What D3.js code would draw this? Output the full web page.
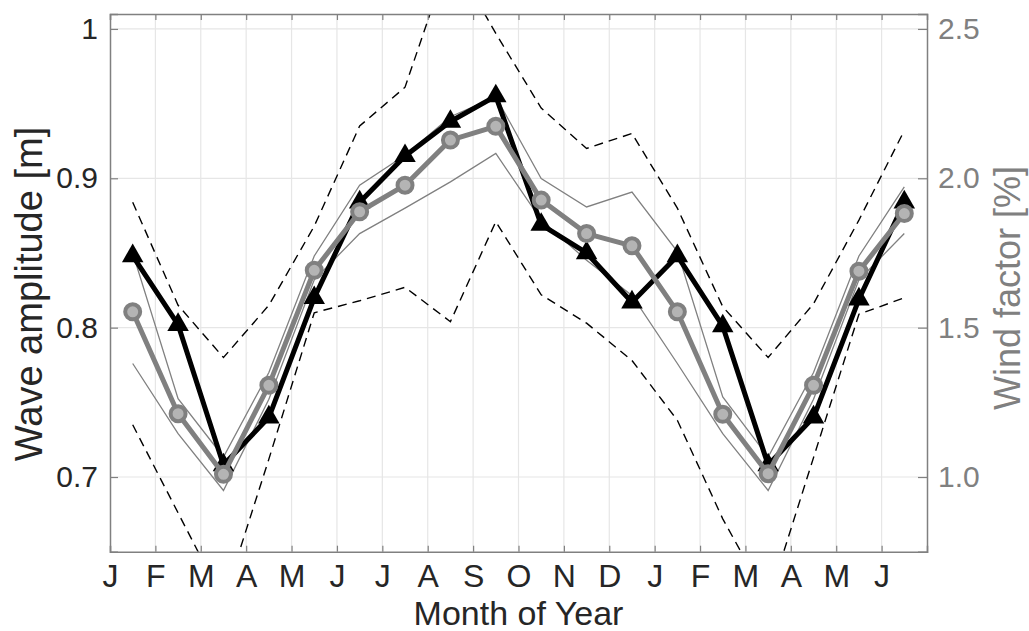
<!DOCTYPE html>
<html>
<head>
<meta charset="utf-8">
<script src="https://cdn.jsdelivr.net/npm/d3@7"></script>
<style>
  body { margin: 0; background: #fff; }
  text { font-family: "Liberation Sans", Arial, Helvetica, sans-serif; }
</style>
</head>
<body>
<svg id="chart" width="1029" height="631"></svg>
<script>

// Month labels on the x axis (18 months, Jan -> Jun of next year)
var months = ['J', 'F', 'M', 'A', 'M', 'J', 'J', 'A', 'S', 'O', 'N', 'D', 'J', 'F', 'M', 'A', 'M', 'J'];

// Wave amplitude [m] (left axis), black line with triangles
var waveAmp = [0.848, 0.802, 0.708, 0.740, 0.820, 0.884, 0.915, 0.938, 0.955, 0.869, 0.850, 0.817, 0.848, 0.801, 0.708, 0.740, 0.819, 0.884];
// dashed envelope around the wave amplitude
var waveUpper = [0.884, 0.815, 0.780, 0.815, 0.868, 0.935, 0.961, 1.050, 0.997, 0.947, 0.920, 0.930, 0.880, 0.814, 0.780, 0.816, 0.872, 0.932];
var waveLower = [0.735, 0.676, 0.617, 0.712, 0.810, 0.818, 0.827, 0.804, 0.871, 0.822, 0.803, 0.778, 0.738, 0.672, 0.617, 0.713, 0.809, 0.820];

// Wind factor [%] (right axis), grey line with circles
var windFactor = [1.553, 1.212, 1.009, 1.307, 1.692, 1.888, 1.977, 2.128, 2.174, 1.927, 1.815, 1.774, 1.553, 1.210, 1.011, 1.307, 1.689, 1.882];
// thin grey envelope around the wind factor
var windUpper = [1.750, 1.262, 1.067, 1.350, 1.740, 1.977, 2.077, 2.206, 2.273, 1.999, 1.904, 1.954, 1.755, 1.268, 1.067, 1.350, 1.740, 1.971];
var windLower = [1.380, 1.145, 0.955, 1.260, 1.660, 1.815, 1.900, 1.988, 2.083, 1.860, 1.726, 1.608, 1.380, 1.145, 0.955, 1.260, 1.660, 1.815];

var leftTicks = [0.7, 0.8, 0.9, 1.0];
var leftTickLabels = ['0.7', '0.8', '0.9', '1'];
var rightTicks = [1.0, 1.5, 2.0, 2.5];
var rightTickLabels = ['1.0', '1.5', '2.0', '2.5'];

var textColor = '#262626';
var greyColor = '#808080';
var gridColor = '#e6e6e6';

// 1. Plot area
var plotLeft = 110, plotRight = 927, plotTop = 14, plotBottom = 551.7;

var svg = d3.select('#chart');

var x = d3.scaleLinear().domain([0, months.length]).range([plotLeft, plotRight]);
var yL = d3.scaleLinear().domain([0.65, 1.01]).range([plotBottom, plotTop]);
var yR = d3.scaleLinear().domain([0.75, 2.55]).range([plotBottom, plotTop]);

svg.append('defs').append('clipPath').attr('id', 'plotClip')
	.append('rect')
	.attr('x', plotLeft).attr('y', plotTop)
	.attr('width', plotRight - plotLeft).attr('height', plotBottom - plotTop);

// 2. Grid
var grid = svg.append('g');
grid.selectAll('.vgrid').data(d3.range(1, months.length)).enter().append('line')
	.attr('x1', function(d) { return x(d); })
	.attr('x2', function(d) { return x(d); })
	.attr('y1', plotTop).attr('y2', plotBottom)
	.style('stroke', gridColor).style('stroke-width', 1.2);
grid.selectAll('.hgrid').data(leftTicks).enter().append('line')
	.attr('x1', plotLeft).attr('x2', plotRight)
	.attr('y1', function(d) { return yL(d); })
	.attr('y2', function(d) { return yL(d); })
	.style('stroke', gridColor).style('stroke-width', 1.2);

// 3. Series
var g = svg.append('g').attr('clip-path', 'url(#plotClip)');
var mid = function(i) { return x(i + 0.5); };

var waveLine = d3.line().x(function(d, i) { return mid(i); }).y(function(d) { return yL(d); });
var windLine = d3.line().x(function(d, i) { return mid(i); }).y(function(d) { return yR(d); });

[waveUpper, waveLower].forEach(function(s) {
	g.append('path').datum(s)
		.style('fill', 'none')
		.style('stroke', '#000')
		.style('stroke-width', 1.4)
		.style('stroke-dasharray', '9,6')
		.attr('d', waveLine);
});

[windUpper, windLower].forEach(function(s) {
	g.append('path').datum(s)
		.style('fill', 'none')
		.style('stroke', greyColor)
		.style('stroke-width', 1.3)
		.attr('d', windLine);
});

// Wave amplitude curve + triangles
g.append('path').datum(waveAmp)
	.style('fill', 'none')
	.style('stroke', '#000')
	.style('stroke-width', 5)
	.style('stroke-linejoin', 'round')
	.attr('d', waveLine);

g.selectAll('.tri').data(waveAmp).enter().append('path')
	.attr('transform', function(d, i) { return 'translate(' + mid(i) + ',' + yL(d) + ')'; })
	.attr('d', d3.symbol().type(d3.symbolTriangle).size(200))
	.style('fill', '#000');

// Wind factor curve + circles
g.append('path').datum(windFactor)
	.style('fill', 'none')
	.style('stroke', greyColor)
	.style('stroke-width', 5)
	.style('stroke-linejoin', 'round')
	.attr('d', windLine);

g.selectAll('.circ').data(windFactor).enter().append('circle')
	.attr('cx', function(d, i) { return mid(i); })
	.attr('cy', function(d) { return yR(d); })
	.attr('r', 7.5)
	.style('fill', '#b4b4b4')
	.style('stroke', greyColor)
	.style('stroke-width', 4);

// 4. Axes box and ticks
var axes = svg.append('g');

var bottomAxis = d3.axisBottom(x).tickValues(d3.range(0, months.length))
	.tickSize(-6).tickPadding(12)
	.tickFormat(function(d) { return months[d]; });
var topAxis = d3.axisTop(x).tickValues(d3.range(0, months.length))
	.tickSize(-6).tickFormat('');
var leftAxis = d3.axisLeft(yL).tickValues(leftTicks)
	.tickSize(-8).tickPadding(12)
	.tickFormat(function(d, i) { return leftTickLabels[i]; });
var rightAxis = d3.axisRight(yR).tickValues(rightTicks)
	.tickSize(-9).tickPadding(11)
	.tickFormat(function(d, i) { return rightTickLabels[i]; });

var gb = axes.append('g').attr('transform', 'translate(0,' + plotBottom + ')').call(bottomAxis);
var gt = axes.append('g').attr('transform', 'translate(0,' + plotTop + ')').call(topAxis);
var gl = axes.append('g').attr('transform', 'translate(' + plotLeft + ',0)').call(leftAxis);
var gr = axes.append('g').attr('transform', 'translate(' + plotRight + ',0)').call(rightAxis);

[gb, gt, gl, gr].forEach(function(a) {
	a.select('.domain').style('stroke', greyColor).style('stroke-width', 1.5);
	a.selectAll('.tick line').style('stroke', greyColor).style('stroke-width', 1.2);
});

gb.selectAll('.tick text')
	.style('font-size', '32px').style('fill', textColor)
	.attr('dy', '0.71em').attr('y', 13);
gl.selectAll('.tick text')
	.style('font-size', '30px').style('fill', textColor);
gr.selectAll('.tick text')
	.style('font-size', '30px').style('fill', greyColor);

// 5. Axis titles
svg.append('text')
	.attr('x', (plotLeft + plotRight) / 2).attr('y', 625)
	.attr('text-anchor', 'middle')
	.style('font-size', '34px').style('fill', textColor)
	.text('Month of Year');

svg.append('text')
	.attr('transform', 'translate(42,294) rotate(-90)')
	.attr('text-anchor', 'middle')
	.style('font-size', '38px').style('fill', textColor)
	.text('Wave amplitude [m]');

svg.append('text')
	.attr('transform', 'translate(1020,288) rotate(-90)')
	.attr('text-anchor', 'middle')
	.style('font-size', '36px').style('fill', greyColor)
	.text('Wind factor [%]');

</script>
</body>
</html>
